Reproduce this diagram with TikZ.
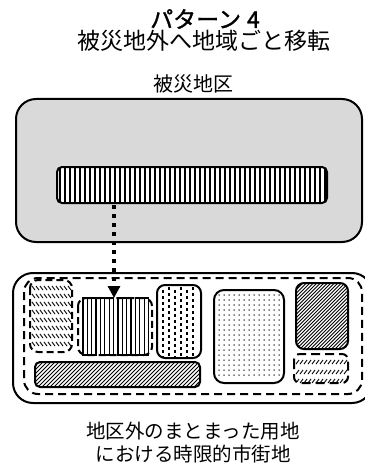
\documentclass[tikz,border=0pt]{standalone}
\usepackage{fontspec}
\setmainfont{Noto Sans CJK JP}
\newfontfamily\titlefont{Noto Sans CJK JP}[FakeBold=1.3]
\usetikzlibrary{arrows.meta}
\definecolor{areagray}{HTML}{D9D9D9}
\tikzset{
  boxline/.style={line width=2pt, rounded corners=#1},
  dashline/.style={line width=2pt, dash pattern=on 8pt off 5pt, rounded corners=#1},
  hatch/.style={line width=0.9pt},
  lbl/.style={inner sep=0pt, align=center}
}
\begin{document}
\begin{tikzpicture}[x=1pt,y=-1pt]
\useasboundingbox (0,0) rectangle (364,468);
% texts
\node[lbl,font=\fontsize{23}{26}\titlefont] (t1) at (205,19) {パターン\hspace{6pt}4};
\node[lbl,font=\fontsize{23}{26}\selectfont] (t2) at (204,41) {被災地外へ地域ごと移転};
\node[lbl,font=\fontsize{20}{22}\selectfont] (t3) at (193,84) {被災地区};
\node[lbl,font=\fontsize{19.5}{22}\selectfont] (t4) at (193,431) {地区外のまとまった用地};
\node[lbl,font=\fontsize{19.5}{22}\selectfont] (t5) at (193,454) {における時限的市街地};
% disaster area
\draw[boxline=20pt, fill=areagray] (16,99) rectangle (362,242);
\begin{scope}
  \clip[rounded corners=5pt] (57,167) rectangle (327,203);
  \fill[white] (57,167) rectangle (327,203);
  \foreach \x in {60,65,...,325} \draw[line width=2pt] (\x,165) -- (\x,205);
\end{scope}
\draw[boxline=5pt] (57,167) rectangle (327,203);
% relocation site
\draw[boxline=20pt] (13,273) rectangle (372,403);
\draw[dashline=14pt] (24,278) rectangle (362,394);
% A: wavy hatched, dashed
\begin{scope}
  \clip[rounded corners=8pt] (30,280) rectangle (72,352);
  \foreach \y in {288,296,...,344}
    \foreach \x in {32,36,...,68}
      \draw[hatch] (\x,\y-2) -- (\x+3,\y+2);
\end{scope}
\draw[dashline=8pt, dash pattern=on 7pt off 4pt] (30,280) rectangle (72,352);
% B: meander vertical lines, dashed sides
\draw[dashline=8pt, dash pattern=on 7pt off 4pt] (78,298) rectangle (152,355);
\foreach \a in {83,100.5,118,135.5} {
  \draw[line width=1.3pt] (\a,298) rectangle (\a+13,355);
  \draw[line width=1.3pt] (\a+4.3,298) -- (\a+4.3,355);
  \draw[line width=1.3pt] (\a+8.7,298) -- (\a+8.7,355);
}
% C: vertical dashes
\begin{scope}
  \clip[rounded corners=8pt] (157,285) rectangle (201,358);
  \foreach \x [count=\k] in {163,169,...,197} {
    \pgfmathsetmacro\ph{mod(\k,2)*3}
    \draw[line width=1.2pt, dash pattern=on 3pt off 3pt, dash phase=\ph pt] (\x,287) -- (\x,358);
  }
\end{scope}
\draw[boxline=8pt] (157,285) rectangle (201,358);
% D: dots
\foreach \x in {219,224,...,280}
  \foreach \y in {295,300,...,379}
    \fill (\x,\y) circle (0.75pt);
\draw[boxline=10pt] (214,290) rectangle (284,383);
% E: dense hatch
\begin{scope}
  \clip[rounded corners=8pt] (296,283) rectangle (348,349);
  \foreach \i in {230,233.5,...,350} \draw[hatch] (\i,349) -- (\i+66,283);
\end{scope}
\draw[boxline=8pt] (296,283) rectangle (348,349);
% F: small dashed hatch
\begin{scope}
  \clip[rounded corners=6pt] (294,354) rectangle (348,383);
  \foreach \y in {362,372,381}
    \foreach \x in {296,300,...,346}
      \draw[hatch] (\x,\y+2) -- (\x+3,\y-2);
\end{scope}
\draw[dashline=6pt, dash pattern=on 9pt off 5pt] (294,354) rectangle (348,383);
% G: long hatched bar
\begin{scope}
  \clip[rounded corners=5pt] (35,362) rectangle (200,387);
  \foreach \i in {10,14,...,202} \draw[hatch] (\i,387) -- (\i+25,362);
\end{scope}
\draw[boxline=5pt] (35,362) rectangle (200,387);
% arrow
\coordinate (arrS) at (114,205);
\coordinate (arrE) at (114,298);
\draw[line width=4pt, dash pattern=on 4pt off 5pt, -{Triangle[width=12pt,length=12pt]}] (arrS) -- (arrE);
\end{tikzpicture}
\end{document}
